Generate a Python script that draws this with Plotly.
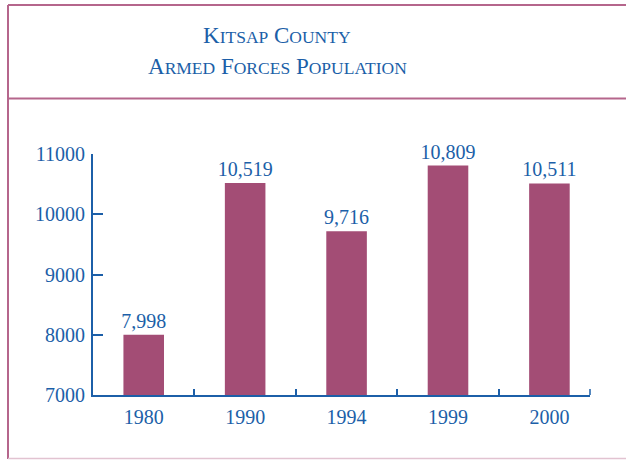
import plotly.graph_objects as go

years = ["1980", "1990", "1994", "1999", "2000"]
population = [7998, 10519, 9716, 10809, 10511]
value_labels = ["7,998", "10,519", "9,716", "10,809", "10,511"]
y_ticks = [7000, 8000, 9000, 10000, 11000]

BLUE = "#1C5FA8"
BAR = "#A34D75"
BORDER = "#B5668C"
FONT = "Liberation Serif"

W, H = 626, 460
# plot area in reference pixels: x 93..590, y 154..395
L, R, T, B = 93, 626 - 590, 154, 460 - 395
PW, PH = W - L - R, H - T - B

def px(x):
    return (x - L) / PW

def py(y):
    return (H - B - y) / PH

fig = go.Figure(go.Bar(
    x=years, y=population, marker_color=BAR, marker_line_width=0,
    text=value_labels, textposition="outside", cliponaxis=False, constraintext="none",
    textfont=dict(family=FONT, size=20, color=BLUE),
))

big, small = 23, 17.5
def smallcaps(word):
    return word[0] + f"<span style='font-size:{small}px'>{word[1:]}</span>"

line1 = " ".join(smallcaps(w) for w in ["KITSAP", "COUNTY"])
line2 = " ".join(smallcaps(w) for w in ["ARMED", "FORCES", "POPULATION"])

fig.add_annotation(x=px(277), y=py(36), xref="paper", yref="paper", text=line1,
                   showarrow=False, xanchor="center", yanchor="middle",
                   font=dict(family=FONT, size=big, color=BLUE))
fig.add_annotation(x=px(277), y=py(67), xref="paper", yref="paper", text=line2,
                   showarrow=False, xanchor="center", yanchor="middle",
                   font=dict(family=FONT, size=big, color=BLUE))

# frame
fig.add_shape(type="line", xref="paper", yref="paper", x0=px(8), x1=px(640), y0=py(5), y1=py(5),
              line=dict(color=BORDER, width=2))
fig.add_shape(type="line", xref="paper", yref="paper", x0=px(8), x1=px(8), y0=py(5), y1=py(459),
              line=dict(color=BORDER, width=2))
fig.add_shape(type="line", xref="paper", yref="paper", x0=px(8), x1=px(640), y0=py(98.5), y1=py(98.5),
              line=dict(color=BORDER, width=2))
fig.add_shape(type="line", xref="paper", yref="paper", x0=px(8), x1=px(640), y0=py(458.5), y1=py(458.5),
              line=dict(color="#E2C3D1", width=1.5))
# end tick of x axis
fig.add_shape(type="line", xref="paper", yref="paper", x0=1, x1=1, y0=0, y1=py(389),
              line=dict(color=BLUE, width=1.5))

fig.update_layout(
    width=W, height=H, margin=dict(l=L, r=R, t=T, b=B),
    paper_bgcolor="white", plot_bgcolor="white",
    bargap=0.6, showlegend=False,
    font=dict(family=FONT, color=BLUE),
)
fig.update_xaxes(type="category", range=[-0.5, 4.4], tickson="boundaries",
                 ticks="inside", ticklen=6, tickwidth=1.5, tickcolor=BLUE,
                 showline=True, linecolor=BLUE, linewidth=2, showgrid=False,
                 tickfont=dict(family=FONT, size=20, color=BLUE), ticklabelstandoff=3)
fig.update_yaxes(range=[7000, 11000], tickvals=y_ticks, ticktext=[str(v) for v in y_ticks],
                 ticks="inside", ticklen=10, tickwidth=2, tickcolor=BLUE,
                 showline=True, linecolor=BLUE, linewidth=2, showgrid=False, zeroline=False,
                 tickfont=dict(family=FONT, size=20, color=BLUE), ticklabelstandoff=2)

fig.write_html("out.html", config={"displayModeBar": False},
               post_script="document.body.style.margin='0';document.body.style.overflow='hidden';")
